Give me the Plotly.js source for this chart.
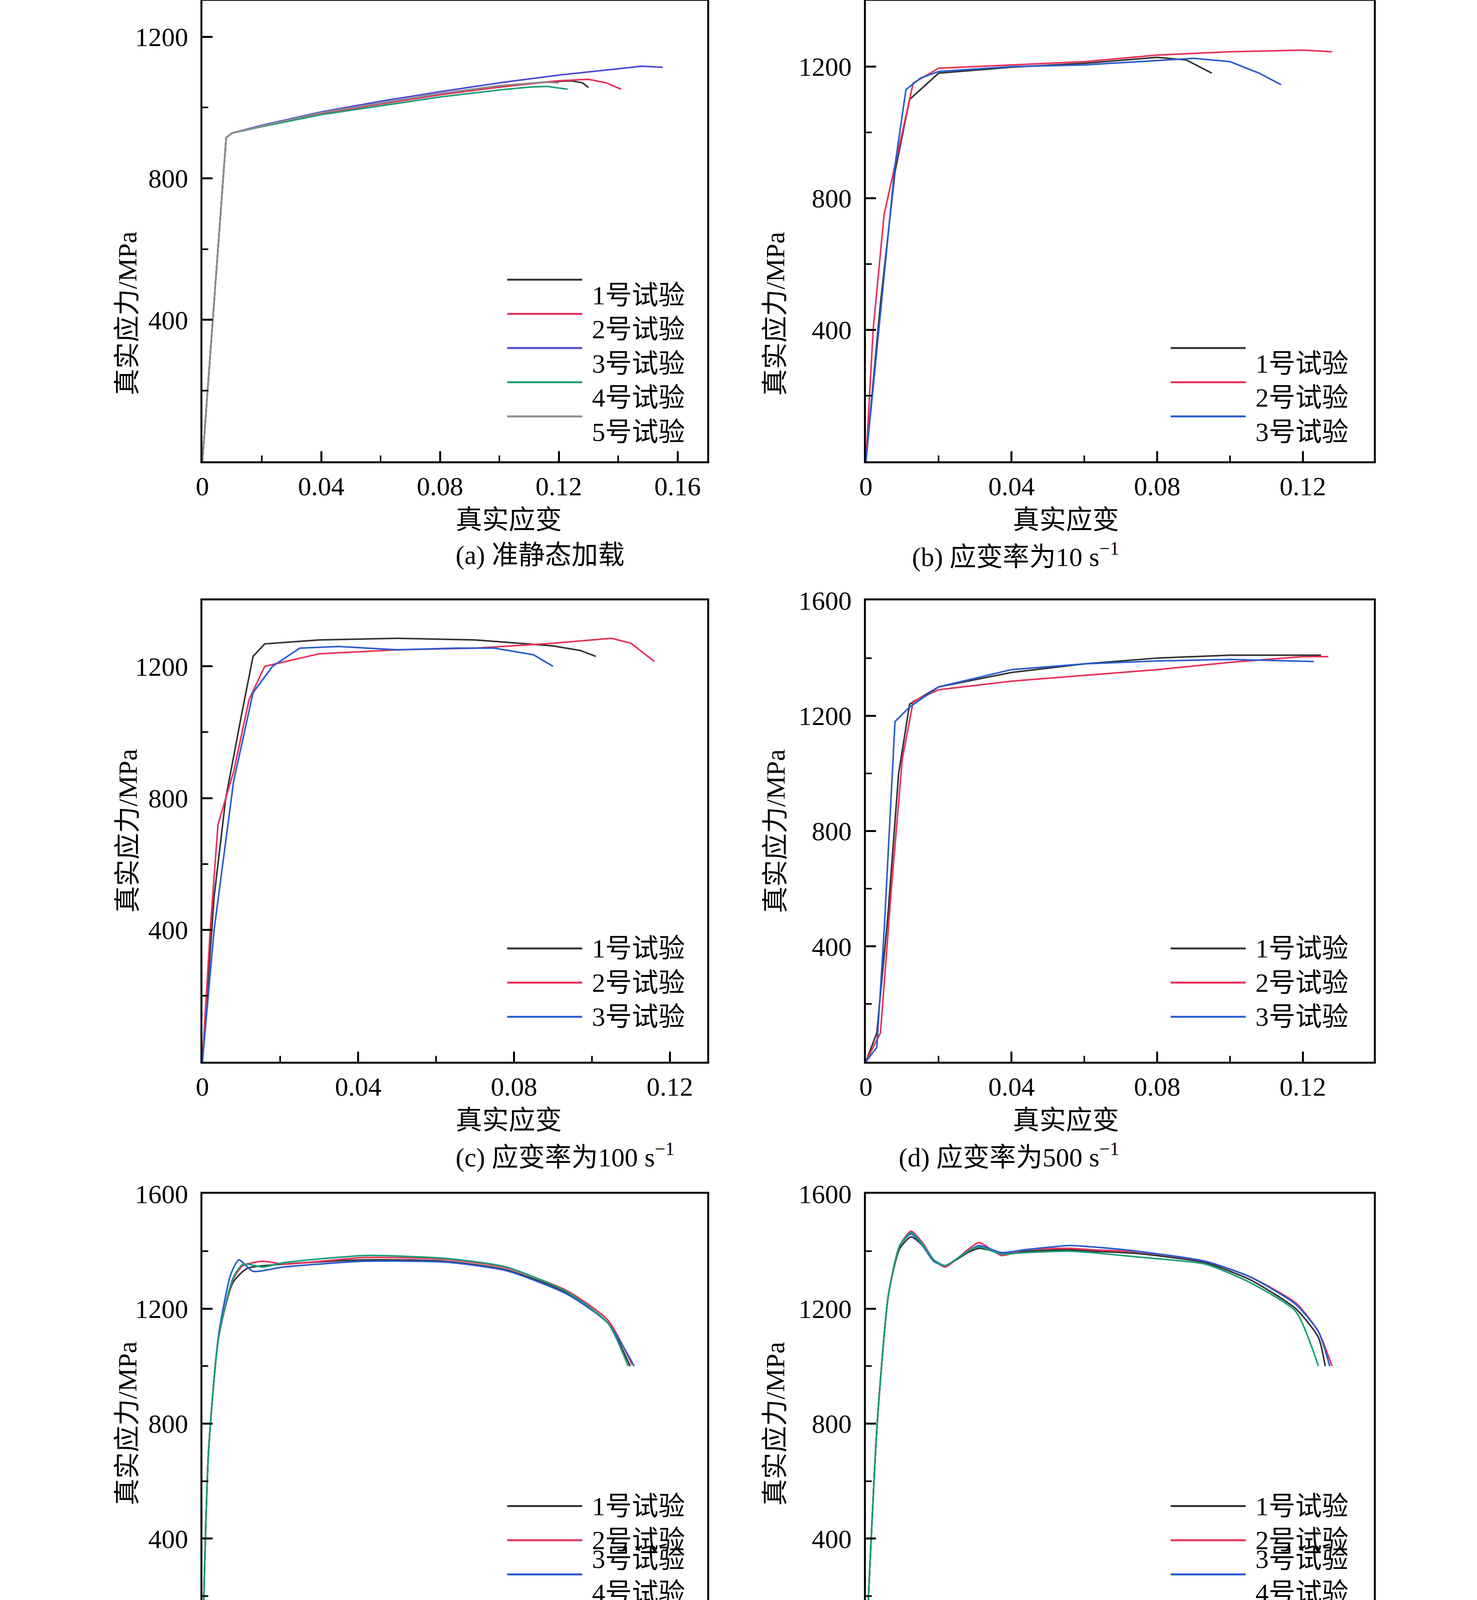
<!DOCTYPE html>
<html><head><meta charset="utf-8">
<script src="https://cdn.plot.ly/plotly-3.0.1.min.js"></script>
<style>html,body{margin:0;padding:0;background:#fff}</style>
</head><body><div id="c" style="width:3780px;height:6013px"></div>
<script>
const labels = ["1号试验","2号试验","3号试验","4号试验","5号试验"];
const colors = ["#333333","#e8305a","#2a5cd0","#1a9f78","#8c8c8c"];
const colorsA = ["#333333","#e8305a","#4a4ad8","#1a9f78","#8c8c8c"];
const captions = ["(a) 准静态加载","(b) 应变率为10 s<sup>−1</sup>","(c) 应变率为100 s<sup>−1</sup>","(d) 应变率为500 s<sup>−1</sup>",
 "(e)  应变率为1 000 s<sup>−1</sup>","(f)  应变率为2 000 s<sup>−1</sup>","(g) 应变率为5 000 s<sup>−1</sup>","(h) 应变率为10 000 s<sup>−1</sup>"];

// (a) quasi-static
const a1x=[0,0.004,0.008,0.01,0.02,0.04,0.06,0.08,0.1,0.115,0.124,0.128,0.13];
const a1y=[0,460,915,928,948,985,1012,1038,1058,1072,1076,1070,1057];
const a2x=[0,0.004,0.008,0.01,0.02,0.04,0.06,0.08,0.1,0.12,0.13,0.136,0.141];
const a2y=[0,460,915,928,948,984,1010,1036,1058,1076,1080,1070,1052];
const a3x=[0,0.004,0.008,0.01,0.02,0.04,0.06,0.08,0.1,0.12,0.14,0.148,0.155];
const a3y=[0,460,915,928,950,988,1018,1045,1070,1092,1110,1117,1114];
const a4x=[0,0.004,0.008,0.01,0.02,0.04,0.06,0.08,0.1,0.11,0.116,0.123];
const a4y=[0,460,915,928,946,980,1005,1030,1050,1058,1060,1052];
const a5x=[0,0.004,0.008,0.01,0.02,0.04,0.06,0.08,0.1,0.115,0.12];
const a5y=[0,460,915,928,948,986,1013,1040,1062,1072,1070];
// (b) 10 s^-1
const b1x=[0,0.004,0.008,0.012,0.02,0.04,0.06,0.08,0.088,0.095];
const b1y=[0,480,880,1100,1180,1198,1210,1228,1220,1180];
const b2x=[0,0.002,0.005,0.009,0.013,0.02,0.04,0.06,0.08,0.1,0.12,0.128];
const b2y=[0,400,750,950,1150,1195,1205,1215,1235,1245,1250,1245];
const b3x=[0,0.004,0.008,0.011,0.015,0.02,0.04,0.06,0.08,0.09,0.1,0.108,0.114];
const b3y=[0,450,900,1130,1165,1185,1200,1205,1218,1225,1215,1180,1145];
// (c) 100 s^-1
const c1x=[0,0.003,0.006,0.01,0.013,0.016,0.03,0.05,0.07,0.09,0.097,0.101];
const c1y=[0,500,800,1050,1230,1268,1280,1285,1280,1262,1248,1230];
const c2x=[0,0.002,0.004,0.008,0.012,0.016,0.03,0.05,0.07,0.09,0.105,0.11,0.116];
const c2y=[0,400,720,880,1100,1200,1238,1250,1255,1270,1285,1270,1215];
const c3x=[0,0.003,0.008,0.013,0.018,0.025,0.035,0.05,0.065,0.075,0.085,0.09];
const c3y=[0,400,850,1120,1200,1255,1260,1250,1255,1255,1235,1200];
// (d) 500 s^-1
const d1x=[0,0.003,0.006,0.009,0.012,0.02,0.04,0.06,0.08,0.1,0.125];
const d1y=[0,100,500,1000,1240,1300,1350,1380,1400,1410,1410];
const d2x=[0,0.004,0.007,0.01,0.013,0.02,0.04,0.08,0.1,0.12,0.127];
const d2y=[0,100,600,1050,1250,1290,1320,1360,1385,1405,1405];
const d3x=[0,0.003,0.005,0.008,0.012,0.02,0.04,0.06,0.08,0.1,0.123];
const d3y=[0,50,450,1180,1230,1300,1360,1380,1390,1395,1388];
// (e) 1000 s^-1
const e1x=[0,0.003,0.008,0.015,0.022,0.04,0.08,0.12,0.15,0.18,0.2,0.211];
const e1y=[0,700,1100,1290,1340,1355,1370,1365,1335,1255,1150,1000];
const e2x=[0,0.003,0.008,0.015,0.02,0.03,0.04,0.08,0.12,0.15,0.18,0.2,0.212];
const e2y=[0,700,1100,1300,1350,1365,1355,1378,1372,1342,1262,1160,1005];
const e3x=[0,0.003,0.008,0.014,0.018,0.025,0.04,0.08,0.12,0.15,0.18,0.2,0.213];
const e3y=[0,700,1110,1320,1370,1330,1345,1365,1362,1332,1250,1150,1000];
const e4x=[0,0.003,0.008,0.015,0.02,0.03,0.04,0.08,0.12,0.15,0.18,0.2,0.21];
const e4y=[0,700,1100,1305,1355,1345,1360,1385,1375,1345,1258,1150,1000];
// (f) 2000 s^-1
const f1x=[0,0.005,0.01,0.015,0.02,0.025,0.03,0.035,0.045,0.05,0.06,0.07,0.09,0.1,0.12,0.15,0.17,0.19,0.2,0.203];
const f1y=[0,800,1250,1410,1450,1420,1370,1350,1395,1410,1395,1400,1405,1400,1392,1360,1300,1200,1100,1000];
const f2x=[0,0.005,0.01,0.015,0.02,0.025,0.03,0.035,0.045,0.05,0.06,0.07,0.09,0.1,0.12,0.15,0.17,0.19,0.2,0.206];
const f2y=[0,800,1250,1420,1470,1430,1370,1345,1405,1430,1385,1405,1410,1405,1398,1365,1310,1220,1120,1000];
const f3x=[0,0.005,0.01,0.015,0.02,0.025,0.03,0.035,0.045,0.05,0.06,0.07,0.09,0.1,0.12,0.15,0.17,0.19,0.2,0.205];
const f3y=[0,800,1250,1420,1460,1420,1365,1350,1400,1420,1395,1405,1420,1415,1400,1365,1310,1215,1120,1000];
const f4x=[0,0.005,0.01,0.015,0.02,0.025,0.03,0.035,0.045,0.05,0.06,0.07,0.09,0.1,0.12,0.15,0.17,0.19,0.2];
const f4y=[0,800,1250,1420,1465,1425,1370,1350,1400,1415,1390,1395,1400,1395,1380,1355,1290,1190,1000];
// (g) 5000 s^-1
const g1x=[0,0.005,0.01,0.02,0.03,0.04,0.05,0.06,0.08,0.1,0.12,0.15,0.18,0.2,0.25,0.3,0.31];
const g1y=[0,800,1200,1430,1480,1450,1415,1420,1470,1480,1510,1515,1545,1545,1535,1530,1525];
const g2x=[0,0.005,0.01,0.02,0.03,0.04,0.05,0.06,0.08,0.1,0.12,0.15,0.2,0.25,0.28];
const g2y=[0,800,1200,1430,1480,1440,1380,1390,1450,1460,1490,1510,1520,1510,1495];
const g3x=[0,0.005,0.01,0.02,0.03,0.04,0.05,0.06,0.08,0.1,0.12,0.14,0.17,0.2,0.25,0.28];
const g3y=[0,800,1200,1430,1480,1435,1370,1385,1445,1450,1480,1470,1505,1510,1510,1500];
const g4x=[0,0.005,0.01,0.02,0.03,0.04,0.05,0.06,0.08,0.1,0.13,0.15,0.2,0.23,0.26,0.27];
const g4y=[0,800,1200,1430,1480,1440,1390,1400,1450,1460,1490,1480,1520,1530,1550,1535];
// (h) 10000 s^-1
const h1x=[0,0.001,0.003,0.006,0.01,0.015,0.02,0.03,0.04,0.06,0.1,0.15,0.17,0.19,0.2,0.21];
const h1y=[100,400,650,850,1000,1150,1250,1350,1392,1420,1455,1490,1500,1497,1490,1464];
const h2x=[0,0.001,0.003,0.006,0.01,0.015,0.02,0.03,0.04,0.05,0.1,0.15,0.19,0.2,0.21,0.225];
const h2y=[100,400,650,850,1000,1150,1250,1360,1420,1443,1475,1503,1524,1524,1522,1500];
const h3x=[0,0.001,0.003,0.006,0.01,0.015,0.02,0.03,0.04,0.05,0.07,0.1,0.15,0.2,0.21,0.218];
const h3y=[100,400,650,850,1000,1150,1260,1370,1430,1455,1494,1516,1550,1572,1566,1552];
const h4x=[0,0.001,0.003,0.006,0.01,0.015,0.02,0.03,0.04,0.05,0.07,0.1,0.15,0.2,0.21];
const h4y=[100,400,650,850,1000,1150,1265,1380,1450,1475,1500,1516,1548,1565,1557];

const panels = [
 {s:[[a1x,a1y],[a2x,a2y],[a3x,a3y],[a4x,a4y],[a5x,a5y]], xr:[0,0.17], xd:0.04, xm:0.02, yr:[0,1302], cols:colorsA, sp:false},
 {s:[[b1x,b1y],[b2x,b2y],[b3x,b3y]], xr:[0,0.1395], xd:0.04, xm:0.02, yr:[0,1400], cols:colors, sp:false},
 {s:[[c1x,c1y],[c2x,c2y],[c3x,c3y]], xr:[0,0.1296], xd:0.04, xm:0.02, yr:[0,1400], cols:colors, sp:false},
 {s:[[d1x,d1y],[d2x,d2y],[d3x,d3y]], xr:[0,0.1395], xd:0.04, xm:0.02, yr:[0,1600], cols:colors, sp:false},
 {s:[[e1x,e1y],[e2x,e2y],[e3x,e3y],[e4x,e4y]], xr:[0,0.249], xd:0.06, xm:0.03, yr:[0,1600], cols:colors, sp:true},
 {s:[[f1x,f1y],[f2x,f2y],[f3x,f3y],[f4x,f4y]], xr:[0,0.2245], xd:0.05, xm:0.025, yr:[0,1600], cols:colors, sp:true},
 {s:[[g1x,g1y],[g2x,g2y],[g3x,g3y],[g4x,g4y]], xr:[0,0.347], xd:0.1, xm:0.05, yr:[0,1700], cols:colors, sp:true},
 {s:[[h1x,h1y],[h2x,h2y],[h3x,h3y],[h4x,h4y]], xr:[0,0.249], xd:0.1, xm:0.05, yr:[0,1700], cols:colors, sp:true}
];
const W=3780,H=6013;
const colPx=[[518,1810],[2216,3516]];
const rowPx=[[2,1181],[1537,2718],[3056,4233],[4559,5743]];
const fontF="Liberation Serif, Times New Roman, Noto Sans CJK SC, serif";
const FS=68;
const data=[], layout={width:W,height:H,margin:{l:0,r:0,t:0,b:0},showlegend:false,paper_bgcolor:"#fff",plot_bgcolor:"#fff",
 font:{family:fontF,size:FS,color:"#000"},annotations:[],shapes:[]};
panels.forEach((p,i)=>{
 const c=i%2,r=Math.floor(i/2),k=i+1;
 const xa="x"+(k>1?k:""), ya="y"+(k>1?k:"");
 const xd=[colPx[c][0]/W,colPx[c][1]/W], yd=[1-rowPx[r][1]/H,1-rowPx[r][0]/H];
 const ax={showline:true,mirror:true,linecolor:"#000",linewidth:5,ticks:"inside",ticklen:26,tickwidth:5,tickcolor:"#000",
   showgrid:false,zeroline:false,tickfont:{size:FS,family:fontF}};
 layout["xaxis"+(k>1?k:"")]=Object.assign({},ax,{domain:xd,anchor:ya,range:p.xr,dtick:p.xd,tick0:0,
   minor:{ticks:"inside",ticklen:15,tickwidth:4,tickcolor:"#000",dtick:p.xm,tick0:0}});
 layout["yaxis"+(k>1?k:"")]=Object.assign({},ax,{domain:yd,anchor:xa,range:p.yr,tickmode:"array",ticklabelstandoff:18,
   tickvals:[400,800,1200,1600].filter(v=>v<=p.yr[1]),
   minor:{ticks:"inside",ticklen:15,tickwidth:4,tickcolor:"#000",tickmode:"array",tickvals:[200,600,1000,1400].filter(v=>v<p.yr[1])}});
 p.s.forEach((s,j)=>{
   data.push({x:s[0],y:s[1],xaxis:xa,yaxis:ya,mode:"lines",line:{color:p.cols[j],width:4,shape:p.sp?"spline":"linear",smoothing:0.6},hoverinfo:"skip"});
 });
 const L=colPx[c][0], B=rowPx[r][1], cx=(colPx[c][0]+colPx[c][1])/2, cy=(rowPx[r][0]+rowPx[r][1])/2;
 layout.annotations.push({xref:"paper",yref:"paper",x:cx/W,y:1-(B+150)/H,yanchor:"middle",text:"真实应变",showarrow:false,font:{size:FS,family:fontF}});
 layout.annotations.push({xref:"paper",yref:"paper",x:cx/W,y:1-(B+240)/H,yanchor:"middle",text:captions[i],showarrow:false,font:{size:FS,family:fontF}});
 layout.annotations.push({xref:"paper",yref:"paper",x:(L-232)/W,y:1-cy/H,text:"真实应力/MPa",textangle:-90,showarrow:false,font:{size:FS,family:fontF}});
 const n=p.s.length;
 for(let j=0;j<n;j++){
   const yy=B-115-(n-1-j)*87.5;
   layout.shapes.push({type:"line",xref:"paper",yref:"paper",x0:(L+780)/W,x1:(L+972)/W,y0:1-yy/H,y1:1-yy/H,line:{color:p.cols[j],width:5}});
   layout.annotations.push({xref:"paper",yref:"paper",x:(L+995)/W,y:1-yy/H,xanchor:"left",text:labels[j],showarrow:false,font:{size:FS,family:fontF}});
 }
});
Plotly.newPlot("c",data,layout,{staticPlot:true});
</script></body></html>
